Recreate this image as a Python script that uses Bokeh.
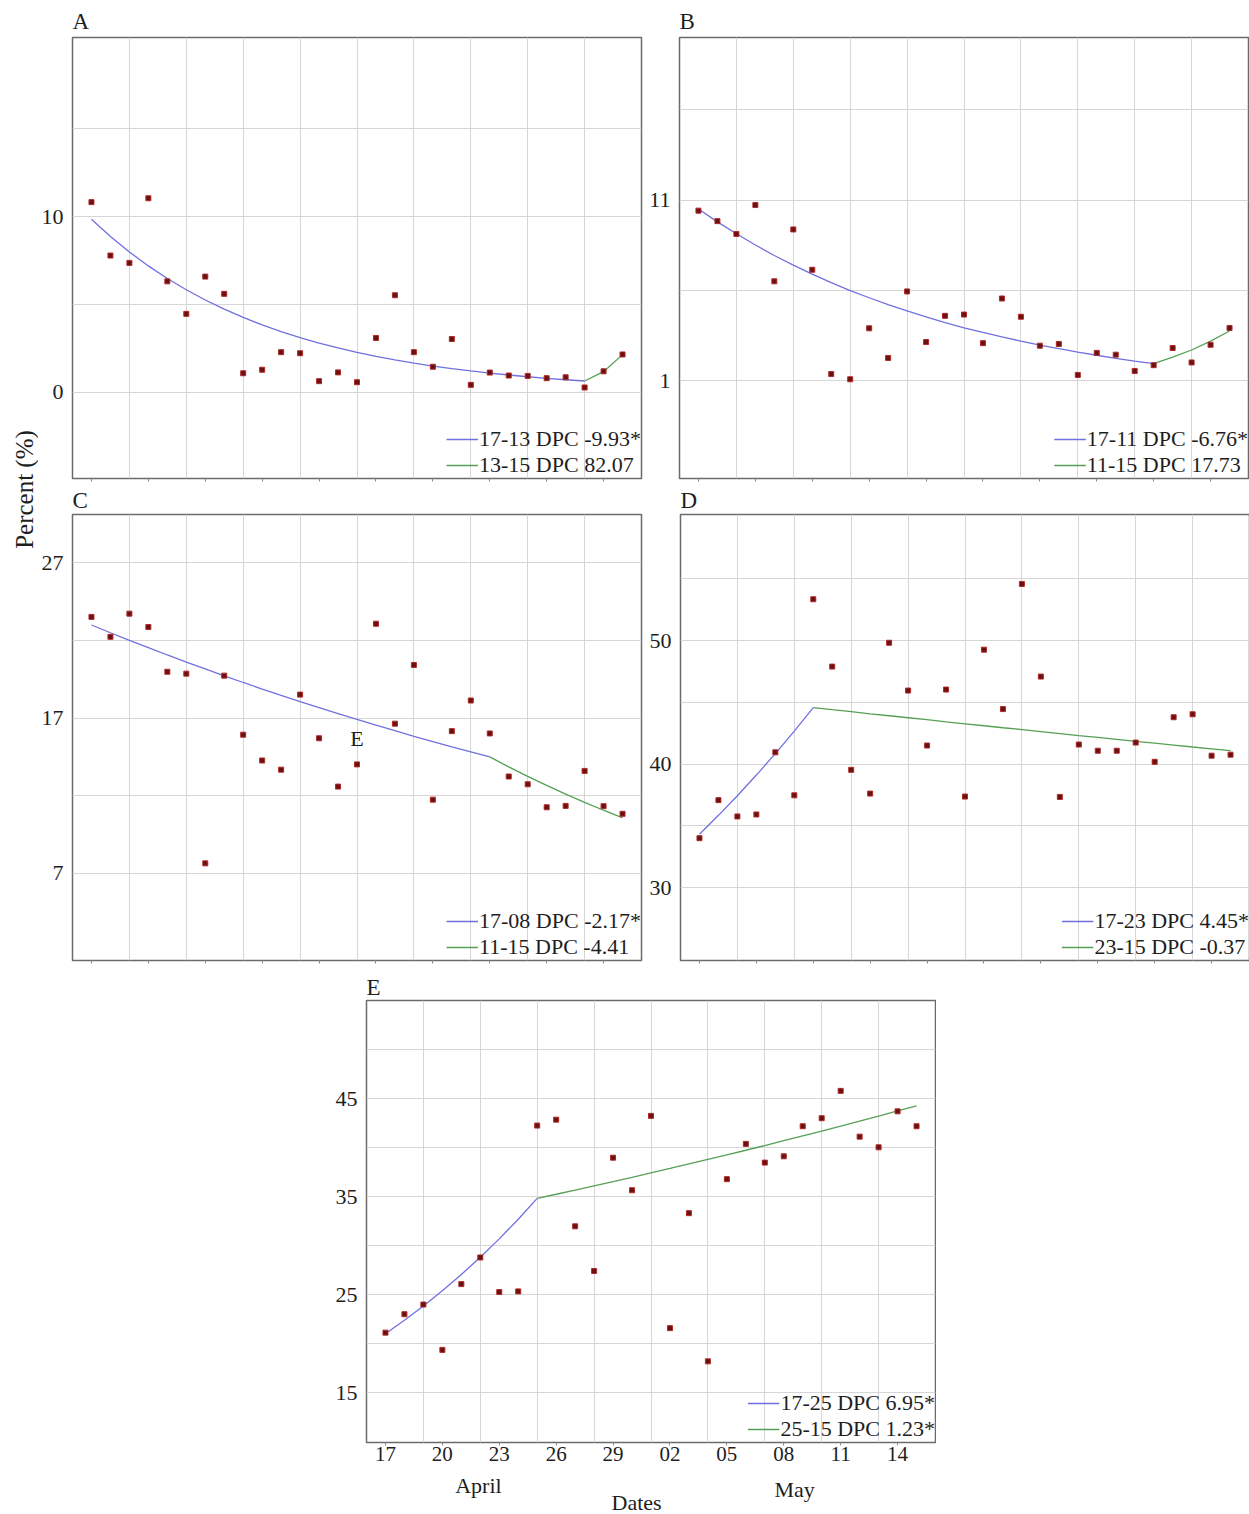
import math
from bokeh.plotting import figure
from bokeh.models import (FixedTicker, Label, Legend, LegendItem, Spacer,
                          CustomJSTickFormatter)
from bokeh.layouts import row, column
from bokeh.embed import file_html
from bokeh.resources import INLINE

# ---------------- data ----------------
days = list(range(29))  # 0 = April 17 ... 28 = May 15
tick_days = [0, 3, 6, 9, 12, 15, 18, 21, 24, 27]
tick_labels = ["17", "20", "23", "26", "29", "02", "05", "08", "11", "14"]
grid_days = [2, 5, 8, 11, 14, 17, 20, 23, 26]
month_pos = [4.9, 21.57]
month_labels = ["April", "May"]
x_title = "Dates"
y_title = "Percent (%)"

A_vals = [10.83, 7.79, 7.37, 11.05, 6.32, 4.47, 6.59, 5.61, 1.09, 1.29, 2.29, 2.23, 0.64, 1.14, 0.58,
          3.10, 5.53, 2.29, 1.46, 3.04, 0.43, 1.13, 0.96, 0.94, 0.81, 0.86, 0.28, 1.20, 2.16]
A_trend1 = [9.85, 8.87, 7.99, 7.20, 6.48, 5.84, 5.26, 4.74, 4.27, 3.84, 3.46, 3.12, 2.81, 2.53, 2.28,
            2.05, 1.85, 1.67, 1.50, 1.35, 1.22, 1.10, 0.99, 0.89, 0.80, 0.72, 0.65]
A_trend2 = [0.65, 1.18, 2.15]
A_break = 26
A_legend = ["17-13 DPC -9.93*", "13-15 DPC 82.07"]

B_vals = [10.42, 9.84, 9.13, 10.73, 6.51, 9.38, 7.15, 1.38, 1.09, 3.91, 2.27, 5.95, 3.15, 4.60, 4.67,
          3.09, 5.56, 4.55, 2.95, 3.04, 1.33, 2.55, 2.45, 1.55, 1.87, 2.82, 2.02, 3.00, 3.93]
B_trend1 = [10.51, 9.80, 9.14, 8.52, 7.94, 7.41, 6.91, 6.44, 6.00, 5.60, 5.22, 4.87, 4.54, 4.23, 3.94,
            3.68, 3.43, 3.20, 2.98, 2.78, 2.59, 2.42, 2.25, 2.10, 1.96]
B_trend2 = [1.96, 2.31, 2.71, 3.20, 3.76]
B_break = 24
B_legend = ["17-11 DPC -6.76*", "11-15 DPC 17.73"]

C_vals = [23.51, 22.23, 23.72, 22.86, 19.98, 19.86, 7.65, 19.73, 15.93, 14.27, 13.68, 18.51, 15.70, 12.59,
          14.02, 23.07, 16.64, 20.42, 11.75, 16.16, 18.13, 16.01, 13.24, 12.74, 11.26, 11.35, 13.60, 11.33, 10.84]
C_trend1 = [22.99, 22.49, 22.00, 21.53, 21.06, 20.60, 20.16, 19.72, 19.29, 18.87, 18.46, 18.06, 17.67,
            17.29, 16.91, 16.54, 16.19, 15.83, 15.49, 15.15, 14.83, 14.50]
C_trend2 = [14.50, 13.86, 13.25, 12.67, 12.11, 11.58, 11.07, 10.58]
C_break = 21
C_legend = ["17-08 DPC -2.17*", "11-15 DPC -4.41"]

D_vals = [34.00, 37.08, 35.76, 35.92, 40.95, 37.47, 53.34, 47.89, 39.53, 37.61, 49.82, 45.95, 41.50, 46.03,
          37.37, 49.26, 44.45, 54.58, 47.08, 37.34, 41.58, 41.08, 41.08, 41.74, 40.18, 43.79, 44.03, 40.68, 40.76]
D_trend1 = [34.32, 35.85, 37.44, 39.11, 40.85, 42.67, 44.57]
D_trend2 = [44.57, 44.40, 44.24, 44.07, 43.91, 43.75, 43.59, 43.42, 43.26, 43.10, 42.94, 42.79, 42.63,
            42.47, 42.31, 42.16, 42.00, 41.84, 41.69, 41.54, 41.38, 41.23, 41.08]
D_break = 6
D_legend = ["17-23 DPC 4.45*", "23-15 DPC -0.37"]

E_vals = [21.11, 22.99, 23.98, 19.35, 26.06, 28.78, 25.25, 25.32, 42.24, 42.84, 31.96, 27.40, 38.96, 35.64,
          43.23, 21.57, 33.30, 18.18, 36.77, 40.37, 38.46, 39.10, 42.17, 42.99, 45.78, 41.11, 40.02, 43.69, 42.17]
E_trend1 = [21.00, 22.37, 23.83, 25.38, 27.04, 28.80, 30.68, 32.68, 34.81]
E_trend2 = [34.81, 35.23, 35.66, 36.09, 36.52, 36.96, 37.41, 37.86, 38.32, 38.78, 39.25, 39.72, 40.20,
            40.69, 41.18, 41.68, 42.18, 42.69, 43.21, 43.73, 44.26]
E_break = 8
E_legend = ["17-25 DPC 6.95*", "25-15 DPC 1.23*"]

# ---------------- style ----------------
FONT = "Liberation Serif"
TXT = "#1e1e1e"
BLUE = "#7070e0"
GREEN = "#55a055"
PT_FILL = "#6a1010"
PT_LINE = "#b02a2a"


def make_panel(letter, vals, t1, t2, brk, leg, yr, yticks, ygrid, fh,
               bl, br, bt, bb, title_standoff, show_x_labels=False):
    p = figure(frame_width=569, frame_height=fh, x_range=(-1, 29), y_range=yr,
               output_backend="svg", toolbar_location=None,
               min_border_left=bl, min_border_right=br, min_border_top=bt, min_border_bottom=bb,
               background_fill_color="white", border_fill_color="white",
               outline_line_color="#6b6b6b", outline_line_width=1.5)
    p.title.text = letter
    p.title.align = "left"
    p.title.offset = 0
    p.title.standoff = title_standoff
    p.title.text_font = FONT
    p.title.text_font_size = "23px"
    p.title.text_font_style = "normal"
    p.title.text_color = TXT

    p.xgrid.ticker = FixedTicker(ticks=grid_days)
    p.ygrid.ticker = FixedTicker(ticks=ygrid)
    p.grid.grid_line_color = "#d6d6d6"
    p.grid.grid_line_width = 1

    ya = p.yaxis[0]
    ya.ticker = FixedTicker(ticks=yticks)
    ya.axis_line_color = None
    ya.major_tick_line_color = None
    ya.minor_tick_line_color = None
    ya.major_label_standoff = 3
    ya.major_label_text_font = FONT
    ya.major_label_text_font_size = "22px"
    ya.major_label_text_color = TXT

    xa = p.xaxis[0]
    xa.ticker = FixedTicker(ticks=tick_days)
    xa.axis_line_color = None
    xa.major_tick_in = 0
    xa.major_tick_out = 3
    xa.major_tick_line_color = "#8a8a8a"
    xa.minor_tick_line_color = None
    if show_x_labels:
        xa.major_label_overrides = {d: s for d, s in zip(tick_days, tick_labels)}
        xa.major_label_standoff = 1
        xa.major_label_text_font = FONT
        xa.major_label_text_font_size = "21px"
        xa.major_label_text_color = TXT
    else:
        xa.formatter = CustomJSTickFormatter(code="return ''")
        xa.major_label_standoff = 0
        xa.major_label_text_font_size = "0px"

    r1 = p.line(days[:brk + 1], t1, line_color=BLUE, line_width=1.3)
    r2 = p.line(days[brk:], t2, line_color=GREEN, line_width=1.3)
    p.scatter(days, vals, marker="square", size=5, fill_color=PT_FILL,
              line_color=PT_LINE, line_width=1)

    legend = Legend(items=[LegendItem(label=leg[0], renderers=[r1]),
                           LegendItem(label=leg[1], renderers=[r2])],
                    location="bottom_right", background_fill_alpha=0,
                    border_line_color=None, margin=0, padding=3, spacing=0,
                    glyph_width=32, glyph_height=20, label_height=20,
                    label_standoff=1, label_text_font=FONT,
                    label_text_font_size="22px", label_text_color=TXT)
    p.add_layout(legend)
    return p


pA = make_panel("A", A_vals, A_trend1, A_trend2, A_break, A_legend, (-4.9, 20.2),
                [0, 10], [0, 5, 10, 15], 441, 33, 5, 37, 6, 7)
pB = make_panel("B", B_vals, B_trend1, B_trend2, B_break, B_legend, (-4.4, 20.0),
                [1, 11], [1, 6, 11, 16], 441, 33, 1, 37, 6, 7)
pC = make_panel("C", C_vals, C_trend1, C_trend2, C_break, C_legend, (1.4, 30.1),
                [7, 17, 27], [7, 12, 17, 22, 27], 446, 33, 5, 29, 6, 3)
pD = make_panel("D", D_vals, D_trend1, D_trend2, D_break, D_legend, (24.1, 60.2),
                [30, 40, 50], [30, 35, 40, 45, 50, 55], 446, 33, 1, 29, 6, 3)
pE = make_panel("E", E_vals, E_trend1, E_trend2, E_break, E_legend, (9.9, 55.0),
                [15, 25, 35, 45], [15, 20, 25, 30, 35, 40, 45, 50], 442, 40, 1, 34, 30, 1,
                show_x_labels=True)

# stray "E" inside panel C, as in the original
pC.add_layout(Label(x=14, y=15.7, text="E", text_font=FONT, text_font_size="22px",
                    text_color=TXT, text_align="center", text_baseline="middle"))

# strip under panel E: month names and x title (same x scale as panel E)
pX = figure(frame_width=569, frame_height=42, x_range=(-1, 29), y_range=(0, 42),
            x_axis_location=None, y_axis_location=None, min_border=0,
            outline_line_color=None, toolbar_location=None, output_backend="svg",
            background_fill_color="white", border_fill_color="white")
pX.grid.visible = False
for txt, xd, yy in [(month_labels[0], month_pos[0], 29), (month_labels[1], month_pos[1], 25),
                    (x_title, 13.24, 12)]:
    pX.add_layout(Label(x=xd, y=yy, text=txt, text_font=FONT, text_font_size="22px",
                        text_color=TXT, text_align="center", text_baseline="middle"))

# y title column
pL = figure(frame_width=38, frame_height=965, x_range=(0, 38), y_range=(0, 965),
            x_axis_location=None, y_axis_location=None, min_border=0,
            outline_line_color=None, toolbar_location=None, output_backend="svg",
            background_fill_color="white", border_fill_color="white")
pL.grid.visible = False
pL.add_layout(Label(x=24, y=476, text=y_title, angle=math.pi / 2,
                    text_font=FONT, text_font_size="25px", text_color=TXT,
                    text_align="center", text_baseline="middle"))

top = row(pL, column(row(pA, pB), row(pC, pD)))
bottom = row(Spacer(width=326, height=10), pE)
strip = row(Spacer(width=366, height=10), pX)
layout = column(top, bottom, strip)

open("out.html", "w").write(file_html(layout, INLINE))
